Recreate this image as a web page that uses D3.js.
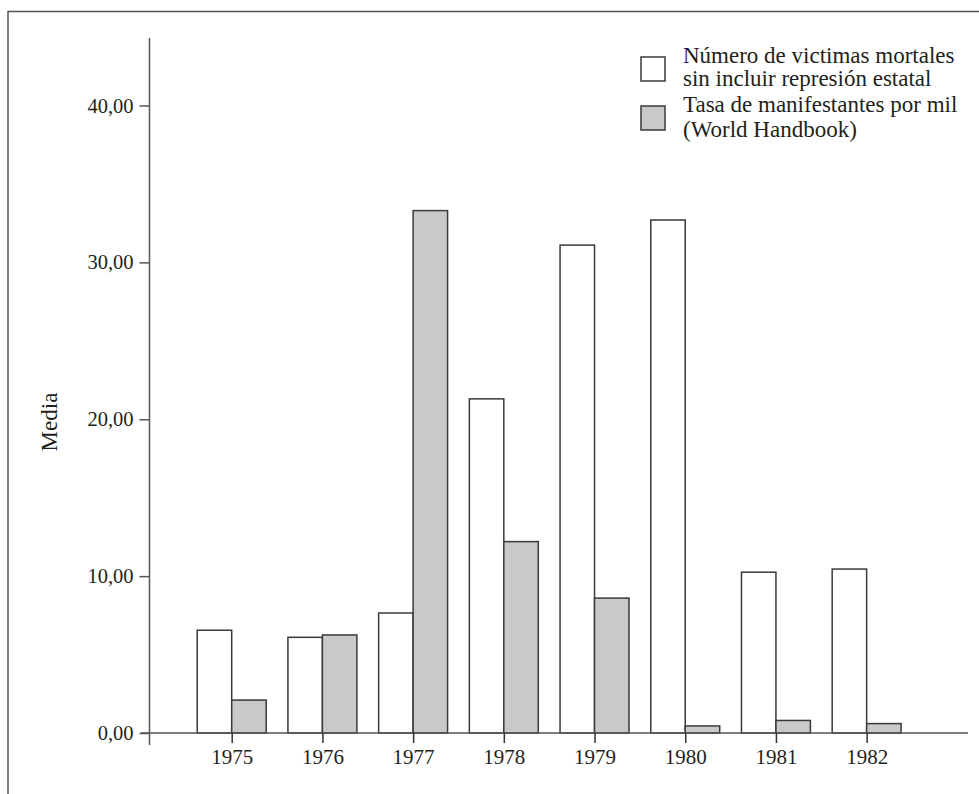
<!DOCTYPE html>
<html>
<head>
<meta charset="utf-8">
<script src="https://cdn.jsdelivr.net/npm/d3@7"></script>
<style>
html,body{margin:0;padding:0;background:#fff;}
svg text{font-family:"Liberation Serif","DejaVu Serif",serif;fill:#231f20;}
</style>
</head>
<body>
<svg id="chart" width="979" height="794"></svg>
<script>
const years = ["1975","1976","1977","1978","1979","1980","1981","1982"];
const victimas = [6.55, 6.1, 7.65, 21.3, 31.1, 32.7, 10.25, 10.45];
const manifestantes = [2.1, 6.25, 33.3, 12.2, 8.6, 0.45, 0.8, 0.6];
const yTicks = [0, 10, 20, 30, 40];
const seriesNames = ["Número de victimas mortales|sin incluir represión estatal", "Tasa de manifestantes por mil|(World Handbook)"];
const seriesColors = ["#ffffff", "#c8c9cb"];
const yLabel = "Media";

const svg = d3.select("#chart");
const stroke = "#3a3a3a";

// frame
svg.append("path").attr("d", "M8,800 L8,11.5 L990,11.5").attr("fill","none").attr("stroke","#555").attr("stroke-width",1.5);

const y = d3.scaleLinear().domain([0, 40]).range([733, 105.5]);
const x0 = d3.scaleBand().domain(years).range([186.35, 912]).paddingInner(0.24).paddingOuter(0.12);
const x1 = d3.scaleBand().domain([0,1]).range([0, x0.bandwidth()]);

// y axis
const yAxis = svg.append("g").attr("transform","translate(149.5,0)")
  .call(d3.axisLeft(y).tickValues(yTicks).tickSize(10).tickPadding(6).tickFormat(d => d3.format(".2f")(d).replace(".", ",")));
yAxis.select(".domain").remove();
yAxis.selectAll(".tick line").attr("stroke","#555").attr("stroke-width",1.5);
yAxis.selectAll("text").attr("font-size", 20.5).style("font-family","'Liberation Serif',serif").attr("fill","#231f20");
svg.append("line").attr("x1",149.5).attr("x2",149.5).attr("y1",38).attr("y2",745).attr("stroke","#555").attr("stroke-width",1.5);

// bars
const data = years.map((yr,i) => ({yr, vals:[victimas[i], manifestantes[i]]}));
const groups = svg.append("g").selectAll("g").data(data).join("g")
  .attr("transform", d => `translate(${x0(d.yr)},0)`);
groups.selectAll("rect").data(d => d.vals.map((v,k)=>({v,k}))).join("rect")
  .attr("x", d => x1(d.k))
  .attr("width", x1.bandwidth())
  .attr("y", d => y(d.v))
  .attr("height", d => y(0) - y(d.v))
  .attr("fill", d => seriesColors[d.k])
  .attr("stroke", stroke).attr("stroke-width", 1.5);

// x axis baseline
svg.append("line").attr("x1",141).attr("x2",968).attr("y1",y(0)).attr("y2",y(0)).attr("stroke","#555").attr("stroke-width",1.5);
const xAxis = svg.append("g").attr("transform",`translate(0,${y(0)})`)
  .call(d3.axisBottom(d3.scalePoint().domain(years).range([x0("1975")+x0.bandwidth()/2, x0("1982")+x0.bandwidth()/2])).tickSize(10).tickPadding(6));
xAxis.select(".domain").remove();
xAxis.selectAll(".tick line").attr("stroke","#333").attr("stroke-width",1.5);
xAxis.selectAll("text").attr("font-size", 21).style("font-family","'Liberation Serif',serif").attr("fill","#231f20");

// y label
svg.append("text").attr("transform","translate(57,422) rotate(-90)").attr("text-anchor","middle")
  .attr("font-size",23).text(yLabel);

// legend
const leg = svg.append("g");
const boxY = [57, 106];
const lineY = [[63, 86], [112, 137]];
seriesNames.forEach((name, k) => {
  leg.append("rect").attr("x",641).attr("y",boxY[k]).attr("width",24).attr("height",24)
    .attr("fill",seriesColors[k]).attr("stroke",stroke).attr("stroke-width",1.5);
  name.split("|").forEach((ln, j) => {
    leg.append("text").attr("x",683).attr("y",lineY[k][j]).attr("font-size",23).text(ln);
  });
});
</script>
</body>
</html>
